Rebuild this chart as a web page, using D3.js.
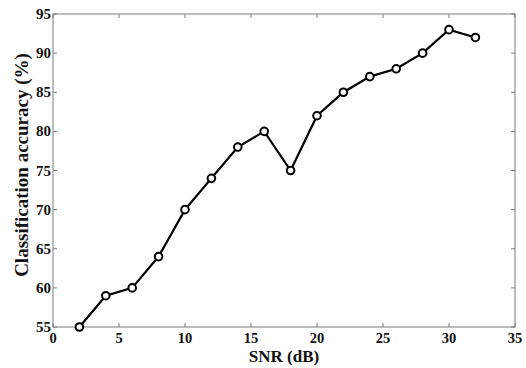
<!DOCTYPE html>
<html>
<head>
<meta charset="utf-8">
<script src="https://d3js.org/d3.v7.min.js"></script>
<style>
body { margin:0; background:#fff; }
text { font-family: "Liberation Serif", "Times New Roman", serif; font-weight: bold; fill:#111; }
</style>
</head>
<body>
<div id="chart"></div>
<script>
// data
var snr = [2, 4, 6, 8, 10, 12, 14, 16, 18, 20, 22, 24, 26, 28, 30, 32];
var accuracy = [55, 59, 60, 64, 70, 74, 78, 80, 75, 82, 85, 87, 88, 90, 93, 92];
var xTicks = [0, 5, 10, 15, 20, 25, 30, 35];
var yTicks = [55, 60, 65, 70, 75, 80, 85, 90, 95];

var W = 526, H = 368;
var margin = {top: 14, right: 11, bottom: 41, left: 53};
var width = W - margin.left - margin.right,
    height = H - margin.top - margin.bottom;

var svg = d3.select("#chart").append("svg")
    .attr("width", W).attr("height", H);
var g = svg.append("g")
    .attr("transform", "translate(" + margin.left + "," + margin.top + ")");

var x = d3.scaleLinear().domain([0, 35]).range([0, width]);
var y = d3.scaleLinear().domain([55, 95]).range([height, 0]);

var axisColor = "#7a7a7a";

// frame
g.append("rect")
    .attr("width", width).attr("height", height)
    .attr("fill", "none").attr("stroke", axisColor).attr("stroke-width", 1);

// ticks (inside, all four sides)
var tl = 4;
xTicks.forEach(function(t){
    g.append("line").attr("x1", x(t)).attr("x2", x(t)).attr("y1", height).attr("y2", height - tl).attr("stroke", axisColor);
    g.append("line").attr("x1", x(t)).attr("x2", x(t)).attr("y1", 0).attr("y2", tl).attr("stroke", axisColor);
    g.append("text").attr("x", x(t)).attr("y", height + 15.5)
        .attr("text-anchor", "middle").style("font-size", "14.5px").text(t);
});
yTicks.forEach(function(t){
    g.append("line").attr("x1", 0).attr("x2", tl).attr("y1", y(t)).attr("y2", y(t)).attr("stroke", axisColor);
    g.append("line").attr("x1", width).attr("x2", width - tl).attr("y1", y(t)).attr("y2", y(t)).attr("stroke", axisColor);
    g.append("text").attr("x", -2).attr("y", y(t) + 5)
        .attr("text-anchor", "end").style("font-size", "15px").text(t);
});

// axis labels
svg.append("text").attr("x", 284).attr("y", 362)
    .attr("text-anchor", "middle").style("font-size", "17px").text("SNR (dB)");
svg.append("text")
    .attr("transform", "translate(28,165) rotate(-90)")
    .attr("text-anchor", "middle").style("font-size", "19px").text("Classification accuracy (%)");

// line
var data = snr.map(function(d, i){ return [d, accuracy[i]]; });
var line = d3.line().x(function(d){ return x(d[0]); }).y(function(d){ return y(d[1]); });
g.append("path").datum(data)
    .attr("d", line).attr("fill", "none").attr("stroke", "#000").attr("stroke-width", 2.2);

g.selectAll(".pt").data(data).enter().append("circle")
    .attr("class", "pt")
    .attr("cx", function(d){ return x(d[0]); })
    .attr("cy", function(d){ return y(d[1]); })
    .attr("r", 3.8)
    .attr("fill", "#fff").attr("stroke", "#000").attr("stroke-width", 2);
</script>
</body>
</html>
